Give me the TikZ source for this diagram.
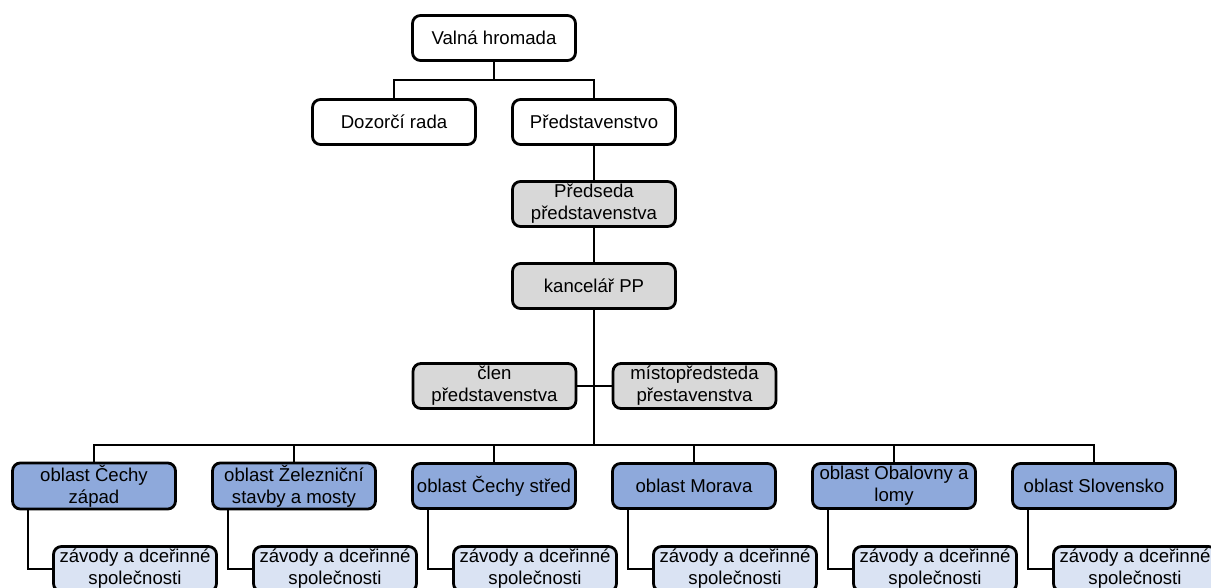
\documentclass[tikz,border=0pt]{standalone}
\usepackage{fontspec}
\setmainfont{Liberation Sans}
\usetikzlibrary{positioning}
\definecolor{oblastblue}{RGB}{142,169,219}
\definecolor{zavodblue}{RGB}{218,227,243}
\definecolor{vedenigray}{RGB}{216,216,216}

\begin{document}
\begin{tikzpicture}[x=0.5pt,y=-0.5pt,
	box/.style={draw,line width=1.4pt,rounded corners=4pt,minimum width=81.5pt,
		minimum height=22.5pt,inner sep=1pt,align=center,
		font=\fontsize{9.3}{11}\selectfont},
	organ/.style={box,fill=white},
	vedeni/.style={box,fill=vedenigray},
	oblast/.style={box,fill=oblastblue},
	zavod/.style={box,fill=zavodblue},
	spoj/.style={line width=1pt},
	kmen/.style={line width=1.4pt}]
		\useasboundingbox (0,0) rectangle (1211,588);
		\clip (0,0) rectangle (1211,588);
		\node[organ] (valna) at (494,38) {Valná hromada};
		\node[organ] (dozor) at (394,122) {Dozorčí rada};
		\node[organ] (pred) at (594,122) {Představenstvo};
		\node[vedeni] (predseda) at (594,204) {Předseda\\představenstva};
		\node[vedeni] (kanc) at (594,286) {kancelář PP};
		\node[vedeni] (clen) at (494.5,386) {člen\\představenstva};
		\node[vedeni] (misto) at (694.5,386) {místopředsteda\\přestavenstva};
		\foreach \txt [count=\i from 0] in {{oblast Čechy\\západ},
			{oblast Železniční\\stavby a mosty},{oblast Čechy střed},
			{oblast Morava},{oblast Obalovny a\\lomy},{oblast Slovensko}}
		{
			\node[oblast] (o\i) at ({94+200*\i},486) {\txt};
			\node[zavod] (z\i) at ({135+200*\i},569) {závody a dceřinné\\společnosti};
		}
		\coordinate (sbus) at (594,445);
		\draw[spoj] (valna.south) -- ++(0,18) coordinate (hv);
		\draw[spoj] (dozor.north) |- (hv) -| (pred.north);
		\draw[kmen] (pred.south) -- (predseda.north);
		\draw[kmen] (predseda.south) -- (kanc.north);
		\draw[kmen] (kanc.south) -- (sbus);
		\draw[spoj] (clen.east) -- (misto.west);
		\draw[spoj] (o0.north) |- (sbus) -| (o5.north);
		\foreach \i in {1,...,4}
			\draw[spoj] (o\i.north) -- (o\i.north |- sbus);
		\foreach \i in {0,...,5}
			\draw[spoj] ([xshift=8.5pt]o\i.south west) |- (z\i.west);
	\end{tikzpicture}
\end{document}
